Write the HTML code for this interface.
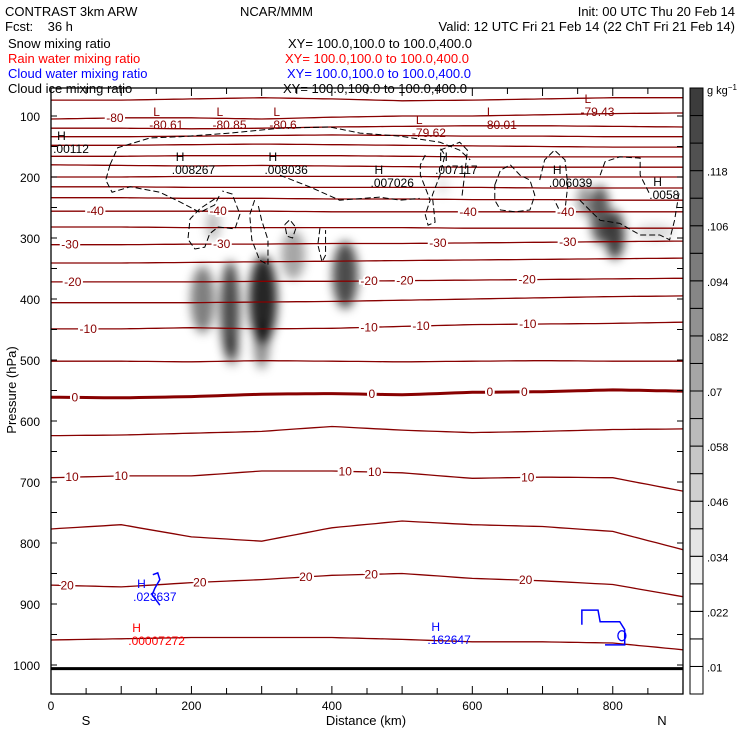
<!DOCTYPE html>
<html><head><meta charset="utf-8">
<style>
html,body{margin:0;padding:0;background:#fff;}
svg{display:block;font-family:"Liberation Sans",sans-serif;}
</style></head>
<body>
<svg id="chart" width="740" height="740" viewBox="0 0 740 740">
<defs>
<filter id="blur" x="-100%" y="-100%" width="300%" height="300%"><feGaussianBlur stdDeviation="5"/></filter>
<clipPath id="plotclip"><rect x="51" y="88" width="632" height="606"/></clipPath>
</defs>
<g font-size="13">
<text x="5" y="16">CONTRAST  3km ARW</text>
<text x="240" y="16">NCAR/MMM</text>
<text x="735" y="16" text-anchor="end">Init: 00 UTC Thu 20 Feb 14</text>
<text x="5" y="31" xml:space="preserve">Fcst:    36 h</text>
<text x="735" y="31" text-anchor="end">Valid: 12 UTC Fri 21 Feb 14 (22 ChT Fri 21 Feb 14)</text>
<text x="8" y="48">Snow mixing ratio</text>
<text x="288" y="48">XY= 100.0,100.0 to 100.0,400.0</text>
<text x="8" y="63" fill="#ff0000">Rain water mixing ratio</text>
<text x="285" y="63" fill="#ff0000">XY= 100.0,100.0 to 100.0,400.0</text>
<text x="8" y="78" fill="#0000ff">Cloud water mixing ratio</text>
<text x="287" y="78" fill="#0000ff">XY= 100.0,100.0 to 100.0,400.0</text>
<text x="8" y="93">Cloud ice mixing ratio</text>
<text x="283" y="93">XY= 100.0,100.0 to 100.0,400.0</text>
</g>
<g id="plot" clip-path="url(#plotclip)"></g>
<g id="overlay"></g>
<g id="axes"></g>
<g id="cbar"></g>
</svg>
<script>
// ---- data ----
const distances=[0,100,200,300,400,500,600,700,800,900];
const isotherms=[
[74,74,72,70,72,75,74,72,70,70],
[105,103,103,105,102,100,100,98,96,95],
[120,120,121,120,118,117,116,116,117,118],
[134,134,133,132,131,132,133,133,134,134],
[148,148,147,146,147,148,149,150,151,151],
[166,166,165,165,165,166,167,167,167,167],
[180,181,182,181,182,183,184,184,184,184],
[200,200,199,199,199,199,200,200,200,200],
[216,216,217,217,217,217,217,218,218,218],
[234,234,235,235,236,236,237,237,238,238],
[256,256,256,256,257,257,257,257,257,257],
[282,282,283,283,283,283,284,284,284,284],
[311,311,310,310,309,309,308,307,306,305],
[341,341,340,339,338,337,336,335,334,333],
[372,372,372,371,371,370,369,368,367,366],
[406,406,406,405,404,402,400,398,396,395],
[449,449,447,449,448,445,442,441,440,438],
[502,502,503,501,502,503,502,501,502,502],
[561,562,560,556,555,557,553,552,549,551],
[624,623,620,617,609,615,619,617,614,613],
[693,690,690,682,682,685,694,692,693,715],
[777,770,790,797,775,764,770,773,781,811],
[869,872,865,860,853,850,858,862,868,888],
[959,957,955,955,955,958,962,962,964,975]];
const thickLine=18;
const contourLabels=[["-80",1,91],["-40",10,63],["-40",10,238],["-40",10,594],["-40",10,733],
["-30",12,27],["-30",12,243],["-30",12,551],["-30",12,736],
["-20",14,31],["-20",14,453],["-20",14,504],["-20",14,678],
["-10",16,53],["-10",16,453],["-10",16,527],["-10",16,679],
["0",18,34],["0",18,457],["0",18,625],["0",18,674],
["10",20,30],["10",20,100],["10",20,419],["10",20,461],["10",20,679],
["20",22,23],["20",22,212],["20",22,363],["20",22,456],["20",22,676]];
// snow cells: distance, pressure, half-width km, half-depth hPa, intensity
const snowD=[216,255,302,300,258,345,419,231,782,803,760,860,558];
const snowP=[401,418,401,475,484,328,361,279,262,295,238,290,215];
const snowW=[17,14,20,11,10,17,18,10,14,14,11,28,8];
const snowH=[55,80,72,40,25,40,55,25,48,40,25,13,15];
const snowI=[0.5,0.7,0.85,0.45,0.4,0.35,0.7,0.25,0.65,0.75,0.4,0.15,0.1];
const iceContours=[
[[84,180],[95,152],[141,136],[184,134],[255,128],[326,120],[397,118],[440,128],[497,133],[554,143],[582,156],[597,172]],
[[84,180],[78,205],[87,225],[113,216],[155,225],[184,241],[212,258],[233,246],[240,230]],
[[233,236],[212,252],[198,269],[195,302],[205,318],[219,315],[226,293],[238,282],[262,285],[269,261],[258,228],[244,223]],
[[290,238],[283,262],[286,303],[297,336],[309,344],[309,303],[300,271],[295,246]],
[[333,278],[340,270],[349,283],[344,300],[336,297],[333,278]],
[[383,284],[380,311],[386,339],[391,328],[391,287]],
[[326,197],[368,216],[411,238],[468,233],[497,238],[525,235]],
[[533,164],[526,180],[526,197],[540,238],[533,262],[537,279],[547,274],[543,230],[554,197],[561,164],[554,152]],
[[554,156],[582,143],[593,156],[589,197],[585,234]],
[[632,213],[640,189],[654,180],[668,197],[682,205],[689,230],[682,254],[661,257],[640,254],[632,238],[632,213]],
[[696,205],[703,172],[717,156],[732,172],[736,213],[732,254],[725,257],[717,238]],
[[782,197],[789,175],[810,167],[839,169],[839,197],[846,213],[853,229]],
[[753,238],[782,271],[810,276],[839,295],[867,295],[881,303],[888,271],[895,222]]];
const waterContours=[
[[145,852],[152,849],[155,860],[148,874],[144,885],[152,897],[155,902]],
[[756,934],[756,910],[779,910],[782,929],[810,929],[817,942],[817,967],[789,967]]];
const waterRing=[813,952];
const extrema=[
["L","-80.61",140,100,"#880000"],["L","-80.85",230,100,"#880000"],["L","-80.6",311,100,"#880000"],
["L","-79.62",514,113,"#880000"],["L","-80.01",615,100,"#880000"],["L","-79.43",754,79,"#880000"],
["H",".00112",3,139,"#000"],["H",".008267",172,174,"#000"],["H",".008036",304,174,"#000"],
["H",".007026",455,195,"#000"],["H",".007117",547,174,"#000"],["H",".006039",709,195,"#000"],
["H",".0058",852,215,"#000"],
["H",".023637",117,874,"#0000ff"],["H",".162647",536,944,"#0000ff"],["H",".00007272",110,946,"#ff0000"]];
const cbarLabels=[".01",".022",".034",".046",".058",".07",".082",".094",".106",".118"];
const yTicks=[100,200,300,400,500,600,700,800,900,1000];
const xTicks=[0,200,400,600,800];
// ---- scales ----
const X=d=>51+d*0.7022;
const Y=p=>116+(p-100)*0.61;
const NS="http://www.w3.org/2000/svg";
function mk(tag,attrs,parent){const e=document.createElementNS(NS,tag);for(const k in attrs)e.setAttribute(k,attrs[k]);parent.appendChild(e);return e;}
const plot=document.getElementById('plot'),ov=document.getElementById('overlay'),ax=document.getElementById('axes'),cb=document.getElementById('cbar');
// snow shading
const sg=mk('g',{filter:'url(#blur)'},plot);


for(let i=0;i<snowD.length;i++){
 const e=mk('ellipse',{cx:X(snowD[i]),cy:Y(snowP[i]),rx:snowW[i]*0.7022,ry:snowH[i]*0.61,fill:'#000','fill-opacity':snowI[i]},sg);
 
 
}
// isotherms
function interp(arr,d){const i=Math.min(8,Math.floor(d/100));const t=(d-distances[i])/100;return arr[i]+(arr[i+1]-arr[i])*t;}
isotherms.forEach((arr,k)=>{
 let pts=[];for(let d=0;d<=900;d+=12.5){pts.push(X(d).toFixed(1)+','+Y(interp(arr,d)).toFixed(1));}
 const pl=mk('polyline',{points:pts.join(' '),fill:'none',stroke:'#880000','stroke-width':k===thickLine?3:1.3},plot);
 
 
});
// ground
const gl=mk('line',{x1:X(0),x2:X(900),y1:Y(1006),y2:Y(1006),stroke:'#000','stroke-width':3},plot);


// cloud ice
iceContours.forEach(c=>{
 const pl=mk('polyline',{points:c.map(q=>X(q[0])+','+Y(q[1])).join(' '),fill:'none',stroke:'#000','stroke-width':1,'stroke-dasharray':'6,3'},plot);
 
 
});
waterContours.forEach(c=>{
 const pl=mk('polyline',{points:c.map(q=>X(q[0])+','+Y(q[1])).join(' '),fill:'none',stroke:'#0000ff','stroke-width':1.5},plot);
 
 
});
const ring=mk('ellipse',{cx:X(waterRing[0]),cy:Y(waterRing[1]),rx:4,ry:5,fill:'none',stroke:'#0000ff','stroke-width':1.3},plot);


// contour labels
contourLabels.forEach(l=>{
 const t=mk('text',{x:X(l[2]),y:Y(interp(isotherms[l[1]],l[2]))+4,'text-anchor':'middle','font-size':12,fill:'#880000',stroke:'#fff','stroke-width':4,'paint-order':'stroke'},ov);
 t.textContent=l[0];
 
 
});
extrema.forEach(e=>{
 const t1=mk('text',{x:X(e[2])+4,y:Y(e[3]),'font-size':12,fill:e[4]},ov);t1.textContent=e[0];
 
 
 const t2=mk('text',{x:X(e[2]),y:Y(e[3])+13,'font-size':12,fill:e[4]},ov);t2.textContent=e[1];
 
 
});
// axes frame
const fr=mk('rect',{x:51,y:88,width:632,height:606,fill:'none',stroke:'#000','stroke-width':1.3},ax);


for(let p=100;p<=1000;p+=50){
 mk('line',{x1:51,x2:57,y1:Y(p),y2:Y(p),stroke:'#000'},ax);
 mk('line',{x1:677,x2:683,y1:Y(p),y2:Y(p),stroke:'#000'},ax);
}
yTicks.forEach(p=>{
 const t=mk('text',{x:40,y:Y(p)+5,'text-anchor':'end','font-size':12},ax);t.textContent=p;
 
 
});
for(let d=0;d<=900;d+=50){
 const L=d%100===0?8:6;
 mk('line',{x1:X(d),x2:X(d),y1:694,y2:694-L,stroke:'#000'},ax);
 mk('line',{x1:X(d),x2:X(d),y1:88,y2:88+L,stroke:'#000'},ax);
}
xTicks.forEach(d=>{
 const t=mk('text',{x:X(d),y:710,'text-anchor':'middle','font-size':12},ax);t.textContent=d;
 
 
});
const xt=mk('text',{x:366,y:725,'text-anchor':'middle','font-size':13},ax);xt.textContent='Distance (km)';


const sT=mk('text',{x:86,y:725,'text-anchor':'middle','font-size':13},ax);sT.textContent='S';


const nT=mk('text',{x:662,y:725,'text-anchor':'middle','font-size':13},ax);nT.textContent='N';


const yt=mk('text',{x:16,y:390,'text-anchor':'middle','font-size':13,transform:'rotate(-90 16 390)'},ax);yt.textContent='Pressure (hPa)';


// colorbar
const nb=22,bh=606/nb;
for(let i=0;i<nb;i++){
 let c=255;if(i>=4){c=Math.round(240-(i-4)*(240-60)/17);}
 const r=mk('rect',{x:690,y:694-(i+1)*bh,width:13,height:bh,fill:`rgb(${c},${c},${c})`,stroke:'#000','stroke-width':1},cb);
 
 
}
cbarLabels.forEach((l,i)=>{
 const t=mk('text',{x:707,y:694-(1+2*i)*bh+5,'font-size':11},cb);t.textContent=l;
 
 
});
const u=mk('text',{x:707,y:94,'font-size':11},cb);u.innerHTML='g kg<tspan dy="-4" font-size="8">−1</tspan>';


</script>
</body></html>
